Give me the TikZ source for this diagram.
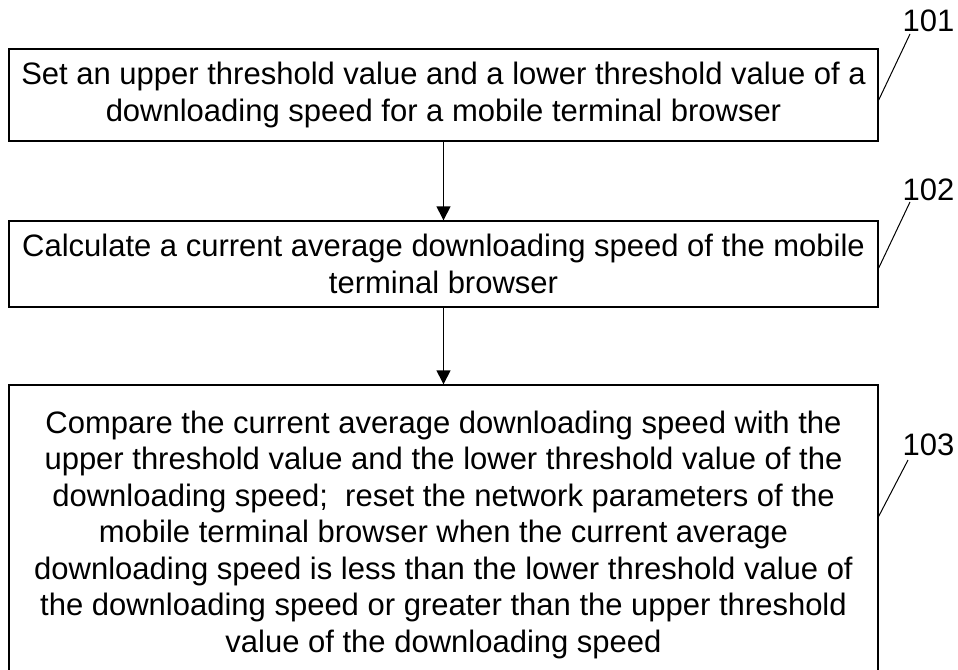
\documentclass[tikz,border=0pt]{standalone}
\usepackage{fontspec}
\setmainfont{Liberation Sans}
\usetikzlibrary{arrows.meta}

\begin{document}
\begin{tikzpicture}[x=1pt, y=-1pt, line width=1.4pt,
    stepbox/.style={rectangle, draw, minimum width=869pt, inner sep=0pt, align=center,
      font=\fontsize{31}{36.5}\selectfont},
    reflabel/.style={inner sep=0pt, font=\fontsize{31}{34}\selectfont}]
      \useasboundingbox (0,0) rectangle (958,669);
      \draw
        (443.5,95) node[stepbox, minimum height=92pt] (1){Set an upper threshold value and a lower threshold value of a\\ downloading speed for a mobile terminal browser}
        (443.5,264) node[stepbox, minimum height=86pt] (2){Calculate a current average downloading speed of the mobile\\ terminal browser}
        (443.5,534.5) node[stepbox, minimum height=299pt] (3){Compare the current average downloading speed with the\\ upper threshold value and the lower threshold value of the\\ downloading speed;\ \ reset the network parameters of the\\ mobile terminal browser when the current average\\ downloading speed is less than the lower threshold value of\\ the downloading speed or greater than the upper threshold\\ value of the downloading speed};
      \draw
        (902,32) node[reflabel, anchor=base west] (101){101}
        (902,200) node[reflabel, anchor=base west] (102){102}
        (902,455) node[reflabel, anchor=base west] (103){103};
      \begin{scope}[-{Triangle[length=14pt, width=14pt]}]
        \draw (1) to (2);
        \draw (2) to (3);
      \end{scope}
      \begin{scope}[-, line width=1pt]
        \draw ([yshift=-5pt]1.east) to ([xshift=8pt, yshift=-1pt]101.south west);
        \draw ([yshift=-4pt]2.east) to ([xshift=8pt, yshift=-1pt]102.south west);
        \draw ([yshift=-132pt]3.north east) to ([xshift=6pt, yshift=-4pt]103.south west);
      \end{scope}
    \end{tikzpicture}
\end{document}
